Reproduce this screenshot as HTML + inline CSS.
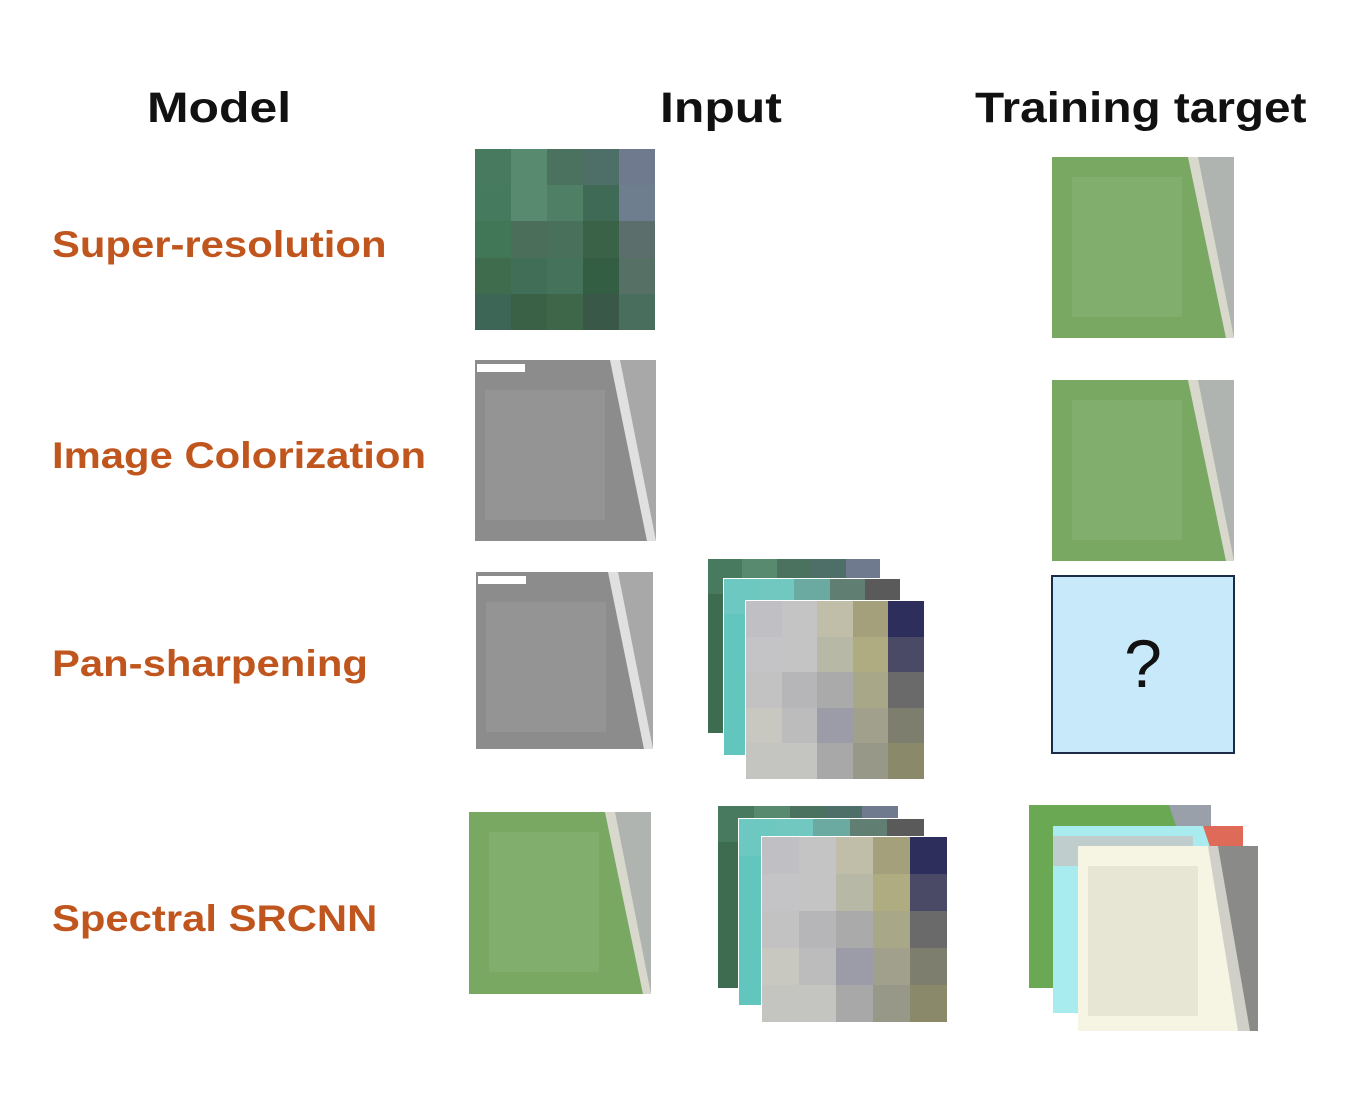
<!DOCTYPE html>
<html><head><meta charset="utf-8"><style>
body{margin:0;width:1350px;height:1110px;background:#fff;position:relative;overflow:hidden;font-family:"Liberation Sans","DejaVu Sans",sans-serif}
.a{position:absolute}
.h{position:absolute;font-weight:bold;font-size:43px;color:#111;top:84px;white-space:nowrap;transform-origin:left center}
.l{position:absolute;font-weight:bold;font-size:37px;color:#c0561e;left:52px;white-space:nowrap;transform:scaleX(1.13);transform-origin:left center}
.g{position:absolute;display:grid;grid-template-columns:repeat(5,1fr);grid-template-rows:repeat(5,1fr);border:1px solid #fff;box-sizing:border-box}
svg{position:absolute}
</style></head><body>
<div class="h" style="left:147px;transform:scaleX(1.16)">Model</div>
<div class="h" style="left:660px;transform:scaleX(1.16)">Input</div>
<div class="h" style="left:975px;transform:scaleX(1.11)">Training target</div>
<div class="l" style="top:224px">Super-resolution</div>
<div class="l" style="top:435px">Image Colorization</div>
<div class="l" style="top:643px">Pan-sharpening</div>
<div class="l" style="top:898px">Spectral SRCNN</div>

<div class="g" style="left:474px;top:148px;width:182px;height:183px">
<i style="background:#477a5f"></i><i style="background:#578a6e"></i><i style="background:#4a725e"></i><i style="background:#4e6e68"></i><i style="background:#707a8e"></i>
<i style="background:#467a5e"></i><i style="background:#588a70"></i><i style="background:#4f7f64"></i><i style="background:#3e6a56"></i><i style="background:#6e7e8e"></i>
<i style="background:#417656"></i><i style="background:#4b6e5a"></i><i style="background:#48705a"></i><i style="background:#3a6246"></i><i style="background:#5c6e6c"></i>
<i style="background:#3e6c4c"></i><i style="background:#416e56"></i><i style="background:#44725a"></i><i style="background:#345e44"></i><i style="background:#567066"></i>
<i style="background:#3e6656"></i><i style="background:#3a6046"></i><i style="background:#3e6648"></i><i style="background:#3a5848"></i><i style="background:#4a6e5e"></i>
</div>

<svg style="left:1052px;top:157px" width="182" height="181"><rect width="182" height="181" fill="#78a862"/><rect x="20" y="20" width="110" height="140" fill="#8cb478" opacity=".5"/><polygon points="136,0 182,0 182,181 174,181" fill="#b0b4b0"/><polygon points="136,0 146,0 182,181 174,181" fill="#d8d8cc"/></svg>
<svg style="left:1052px;top:380px" width="182" height="181"><rect width="182" height="181" fill="#78a862"/><rect x="20" y="20" width="110" height="140" fill="#8cb478" opacity=".5"/><polygon points="136,0 182,0 182,181 174,181" fill="#b0b4b0"/><polygon points="136,0 146,0 182,181 174,181" fill="#d8d8cc"/></svg>
<svg style="left:469px;top:812px" width="182" height="182"><rect width="182" height="182" fill="#78a862"/><rect x="20" y="20" width="110" height="140" fill="#8cb478" opacity=".5"/><polygon points="136,0 182,0 182,182 174,182" fill="#b0b4b0"/><polygon points="136,0 146,0 182,182 174,182" fill="#d8d8cc"/></svg>

<svg style="left:475px;top:360px" width="181" height="181"><rect width="181" height="181" fill="#8c8c8c"/><rect x="10" y="30" width="120" height="130" fill="#9a9a9a" opacity=".6"/><polygon points="135,0 181,0 181,181 172,181" fill="#a8a8a8"/><polygon points="135,0 145,0 181,181 172,181" fill="#e0e0e0"/><rect x="2" y="4" width="48" height="8" fill="#fff"/></svg>
<svg style="left:476px;top:572px" width="177" height="177"><rect width="177" height="177" fill="#8c8c8c"/><rect x="10" y="30" width="120" height="130" fill="#9a9a9a" opacity=".6"/><polygon points="132,0 177,0 177,177 168,177" fill="#a8a8a8"/><polygon points="132,0 142,0 177,177 168,177" fill="#e0e0e0"/><rect x="2" y="4" width="48" height="8" fill="#fff"/></svg>

<div class="g" style="left:707px;top:558px;width:174px;height:176px;background:#3e6c50">
<i style="background:#477a5f"></i><i style="background:#578a6e"></i><i style="background:#4a725e"></i><i style="background:#4e6e68"></i><i style="background:#707a8e"></i></div>
<div class="g" style="left:723px;top:578px;width:178px;height:178px;background:#62c6be">
<i style="background:#6cc8c0"></i><i style="background:#70c8c0"></i><i style="background:#6aaaa0"></i><i style="background:#607e72"></i><i style="background:#5a5a5a"></i></div>
<div class="g" style="left:745px;top:600px;width:180px;height:180px">
<i style="background:#c0c0c4"></i><i style="background:#c4c4c4"></i><i style="background:#c0bea8"></i><i style="background:#a4a07c"></i><i style="background:#2e2e5c"></i>
<i style="background:#c4c4c6"></i><i style="background:#c4c4c4"></i><i style="background:#b8b8a6"></i><i style="background:#aeac80"></i><i style="background:#4a4a66"></i>
<i style="background:#c2c2c2"></i><i style="background:#b6b6b8"></i><i style="background:#aaaaaa"></i><i style="background:#a8a888"></i><i style="background:#6a6a6a"></i>
<i style="background:#c8c8c0"></i><i style="background:#bcbcbc"></i><i style="background:#9c9ca8"></i><i style="background:#a0a08c"></i><i style="background:#7e7e6e"></i>
<i style="background:#c4c4c0"></i><i style="background:#c4c4c0"></i><i style="background:#a8a8a8"></i><i style="background:#989888"></i><i style="background:#8a8a6a"></i>
</div>

<div class="g" style="left:717px;top:805px;width:182px;height:184px;background:#3e6c50">
<i style="background:#477a5f"></i><i style="background:#578a6e"></i><i style="background:#4a725e"></i><i style="background:#4e6e68"></i><i style="background:#707a8e"></i></div>
<div class="g" style="left:738px;top:818px;width:187px;height:188px;background:#62c6be">
<i style="background:#6cc8c0"></i><i style="background:#70c8c0"></i><i style="background:#6aaaa0"></i><i style="background:#607e72"></i><i style="background:#5a5a5a"></i></div>
<div class="g" style="left:761px;top:836px;width:187px;height:187px">
<i style="background:#c0c0c4"></i><i style="background:#c4c4c4"></i><i style="background:#c0bea8"></i><i style="background:#a4a07c"></i><i style="background:#2e2e5c"></i>
<i style="background:#c4c4c6"></i><i style="background:#c4c4c4"></i><i style="background:#b8b8a6"></i><i style="background:#aeac80"></i><i style="background:#4a4a66"></i>
<i style="background:#c2c2c2"></i><i style="background:#b6b6b8"></i><i style="background:#aaaaaa"></i><i style="background:#a8a888"></i><i style="background:#6a6a6a"></i>
<i style="background:#c8c8c0"></i><i style="background:#bcbcbc"></i><i style="background:#9c9ca8"></i><i style="background:#a0a08c"></i><i style="background:#7e7e6e"></i>
<i style="background:#c4c4c0"></i><i style="background:#c4c4c0"></i><i style="background:#a8a8a8"></i><i style="background:#989888"></i><i style="background:#8a8a6a"></i>
</div>

<div class="a" style="left:1051px;top:575px;width:180px;height:175px;background:#c8e9f9;border:2px solid #1c2c48;text-align:center;line-height:175px;font-size:68px;color:#111">?</div>

<svg style="left:1029px;top:805px" width="182" height="183"><rect width="182" height="183" fill="#6aa854"/><polygon points="140,0 182,0 182,30 150,30" fill="#9aa0aa"/></svg>
<svg style="left:1053px;top:826px" width="190" height="187"><rect width="190" height="187" fill="#a8ecf0"/><rect x="0" y="10" width="140" height="30" fill="#e0a098" opacity=".4"/><polygon points="150,0 190,0 190,30 160,30" fill="#e06a58"/></svg>
<svg style="left:1078px;top:846px" width="180" height="185"><rect width="180" height="185" fill="#f6f4e2"/><rect x="10" y="20" width="110" height="150" fill="#d8d6c4" opacity=".5"/><polygon points="135,0 180,0 180,185 170,185" fill="#8a8a88"/><polygon points="130,0 140,0 172,185 160,185" fill="#d0d0c8"/></svg>
</body></html>
